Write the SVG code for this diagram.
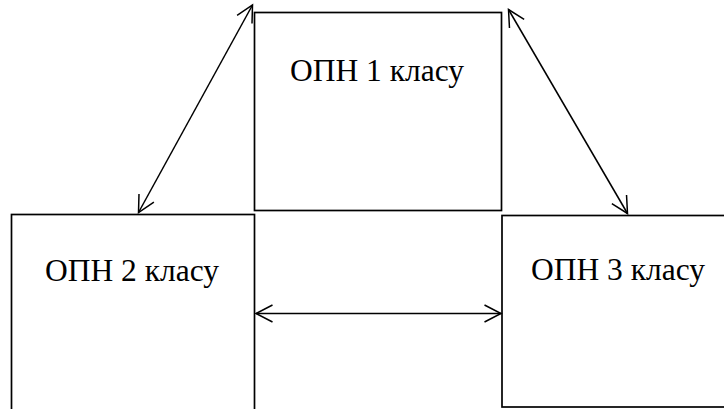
<svg xmlns="http://www.w3.org/2000/svg" width="724" height="409" viewBox="0 0 724 409">
<defs>
<style>
.box{fill:none;stroke:#000;stroke-width:1.7}
.lbl{font-family:'Liberation Serif','Times New Roman','DejaVu Serif',serif;font-size:31.5px;fill:#000}
.con{stroke:#000;stroke-width:1.5;fill:none;marker-start:url(#ah);marker-end:url(#ah)}
</style>
<marker id="ah" viewBox="-18 -10 20 20" markerWidth="20" markerHeight="20" refX="0" refY="0" orient="auto-start-reverse" markerUnits="userSpaceOnUse">
<path d="M-16.5,-8.5 L0,0 L-16.5,8.5" fill="none" stroke="#000" stroke-width="1.5"/>
</marker>
</defs>
<rect width="724" height="409" fill="#fff"/>
<g id="node1">
<rect class="box" x="254.5" y="12.5" width="247" height="198"/>
<text class="lbl" x="290" y="81">ОПН 1 класу</text>
</g>
<g id="node2">
<rect class="box" x="11.5" y="214.5" width="243" height="220"/>
<text class="lbl" x="45" y="281">ОПН 2 класу</text>
</g>
<g id="node3">
<rect class="box" x="502" y="215.5" width="260" height="191.5"/>
<text class="lbl" x="531" y="280">ОПН 3 класу</text>
</g>
<g id="connectors">
<line class="con" x1="138.5" y1="212.5" x2="252.5" y2="5"/>
<line class="con" x1="508.5" y1="9.5" x2="627.5" y2="213.5"/>
<line class="con" x1="256" y1="313.5" x2="501" y2="313.5"/>
</g>
</svg>
